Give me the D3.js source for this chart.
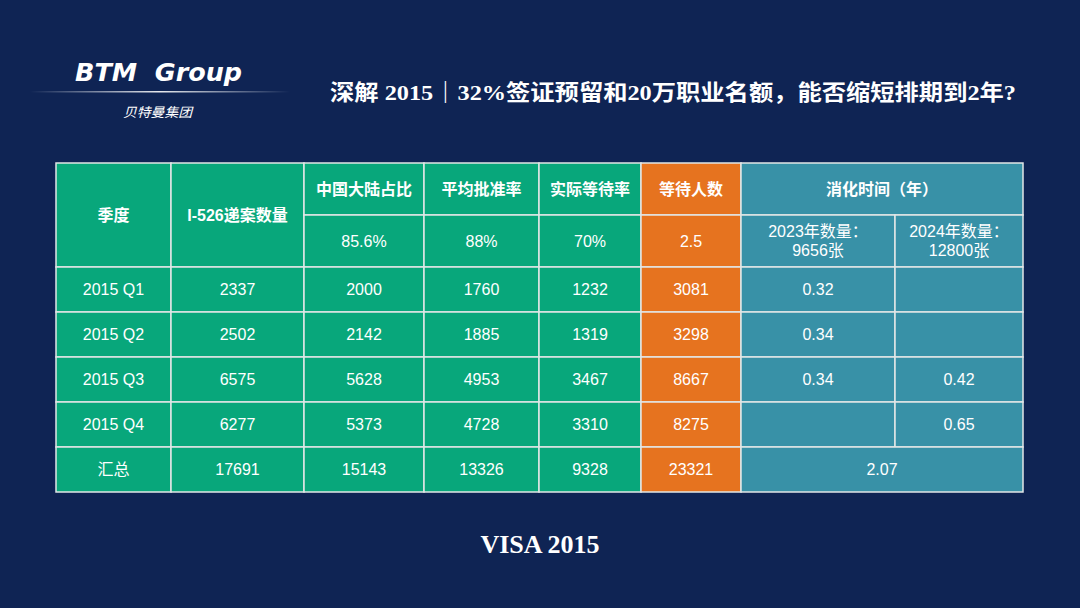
<!DOCTYPE html>
<html>
<head>
<meta charset="utf-8">
<script src="https://cdn.jsdelivr.net/npm/d3@7/dist/d3.min.js"></script>
<style>
  html, body { margin: 0; padding: 0; background: #0f2454; }
  svg { display: block; }
</style>
</head>
<body>
<div id="chart"></div>
<script>
  // data
  var quarters = ['2015 Q1', '2015 Q2', '2015 Q3', '2015 Q4'];
  var totalLabel = '汇总';
  var filings = [2337, 2502, 6575, 6277];
  var mainland = [2000, 2142, 5628, 5373];
  var approved = [1760, 1885, 4953, 4728];
  var actualWait = [1232, 1319, 3467, 3310];
  var waiting = [3081, 3298, 8667, 8275];
  var time2023 = ['0.32', '0.34', '0.34', ''];
  var time2024 = ['', '', '0.42', '0.65'];
  var totals = [17691, 15143, 13326, 9328, 23321];
  var totalTime = '2.07';
  var rateHeaders = ['中国大陆占比', '平均批准率', '实际等待率', '等待人数'];
  var rateValues = ['85.6%', '88%', '70%', '2.5'];
  var yearHeaders = [['2023年数量：', '9656张'], ['2024年数量：', '12800张']];

  var W = 1080, H = 608;
  var colors = { bg: '#0f2454', green: '#08a77b', orange: '#e6731f', teal: '#3891a7', line: '#e2e6e6' };
  var sans = "'Liberation Sans', Arial, 'Noto Sans CJK SC', sans-serif";
  var serif = "'Liberation Serif', 'Times New Roman', 'Noto Sans CJK SC', serif";

  var svg = d3.select('#chart').append('svg')
      .attr('width', W).attr('height', H);

  svg.append('rect').attr('width', W).attr('height', H).attr('fill', colors.bg);

  // logo
  var grad = svg.append('defs').append('linearGradient')
      .attr('id', 'logoLine').attr('x1', '0%').attr('x2', '100%');
  grad.append('stop').attr('offset', '0%').attr('stop-color', '#fff').attr('stop-opacity', 0);
  grad.append('stop').attr('offset', '50%').attr('stop-color', '#fff').attr('stop-opacity', 0.9);
  grad.append('stop').attr('offset', '100%').attr('stop-color', '#fff').attr('stop-opacity', 0);

  svg.append('text')
      .attr('x', 75).attr('y', 81)
      .attr('textLength', 167).attr('lengthAdjust', 'spacingAndGlyphs')
      .style('white-space', 'pre')
      .style('font-family', "'DejaVu Sans', sans-serif")
      .style('font-style', 'italic').style('font-weight', 'bold')
      .style('font-size', '25px').attr('fill', '#fff')
      .text('BTM  Group');

  svg.append('rect')
      .attr('x', 30).attr('y', 91).attr('width', 260).attr('height', 1.5)
      .attr('fill', 'url(#logoLine)');

  svg.append('text')
      .attr('x', 123).attr('y', 117)
      .attr('textLength', 69).attr('lengthAdjust', 'spacingAndGlyphs')
      .style('font-family', "'Noto Sans CJK SC', sans-serif")
      .style('font-style', 'italic').style('font-size', '13px')
      .attr('fill', '#fff')
      .text('贝特曼集团');

  // title
  svg.append('text')
      .attr('x', 330).attr('y', 100)
      .attr('textLength', 686).attr('lengthAdjust', 'spacingAndGlyphs')
      .style('font-family', serif).style('font-weight', 'bold')
      .style('font-size', '22px').attr('fill', '#fff')
      .text('深解 2015｜32%签证预留和20万职业名额，能否缩短排期到2年?');

  svg.append('text')
      .attr('x', 540).attr('y', 553)
      .attr('text-anchor', 'middle')
      .style('font-family', serif).style('font-weight', 'bold')
      .style('font-size', '26px').attr('fill', '#fff')
      .text('VISA 2015');

  // table layout
  var colEdges = [56, 171, 304, 424, 539, 641, 741, 895, 1023];
  var headTop = 163, headMid = 215, headBottom = 267, tableBottom = 492;

  var rowLabels = quarters.concat([totalLabel]);
  var y = d3.scaleBand().domain(rowLabels).range([headBottom, tableBottom]);

  var cells = [];
  function cell(c0, c1, y0, y1, fill, lines, bold) {
    cells.push({ x0: colEdges[c0], x1: colEdges[c1], y0: y0, y1: y1,
                 fill: fill, lines: lines, bold: bold });
  }
  function colFill(c) {
    if (c === 5) { return colors.orange; }
    if (c >= 6) { return colors.teal; }
    return colors.green;
  }

  // header
  cell(0, 1, headTop, headBottom, colors.green, ['季度'], true);
  cell(1, 2, headTop, headBottom, colors.green, ['I-526递案数量'], true);
  rateHeaders.forEach(function(h, i) {
    cell(2 + i, 3 + i, headTop, headMid, colFill(2 + i), [h], true);
    cell(2 + i, 3 + i, headMid, headBottom, colFill(2 + i), [rateValues[i]], false);
  });
  cell(6, 8, headTop, headMid, colors.teal, ['消化时间（年）'], true);
  yearHeaders.forEach(function(h, i) {
    cell(6 + i, 7 + i, headMid, headBottom, colors.teal, h, false);
  });

  // body rows
  quarters.forEach(function(q, i) {
    var y0 = y(q), y1 = y(q) + y.bandwidth();
    var vals = [q, filings[i], mainland[i], approved[i], actualWait[i], waiting[i], time2023[i], time2024[i]];
    vals.forEach(function(v, c) {
      cell(c, c + 1, y0, y1, colFill(c), [String(v)], false);
    });
  });
  var ty0 = y(totalLabel), ty1 = ty0 + y.bandwidth();
  cell(0, 1, ty0, ty1, colors.green, [totalLabel], false);
  totals.forEach(function(v, i) {
    cell(1 + i, 2 + i, ty0, ty1, colFill(1 + i), [String(v)], false);
  });
  cell(6, 8, ty0, ty1, colors.teal, [totalTime], false);

  var table = svg.append('g').attr('class', 'table');

  var g = table.selectAll('g.cell')
    .data(cells)
    .enter().append('g')
      .attr('class', 'cell');

  g.append('rect')
      .attr('x', function(d) { return d.x0; })
      .attr('y', function(d) { return d.y0; })
      .attr('width', function(d) { return d.x1 - d.x0; })
      .attr('height', function(d) { return d.y1 - d.y0; })
      .attr('fill', function(d) { return d.fill; })
      .attr('stroke', colors.line)
      .attr('stroke-width', 1.5);

  g.append('text')
      .attr('text-anchor', 'middle')
      .style('font-family', sans)
      .style('font-size', '16px')
      .style('font-weight', function(d) { return d.bold ? 'bold' : 'normal'; })
      .attr('fill', '#fff')
    .each(function(d) {
        var t = d3.select(this);
        var cx = (d.x0 + d.x1) / 2, cy = (d.y0 + d.y1) / 2;
        var lh = 19;
        var start = cy - (d.lines.length - 1) * lh / 2;
        d.lines.forEach(function(line, k) {
            t.append('tspan')
              .attr('x', cx)
              .attr('y', start + k * lh)
              .attr('dy', '0.35em')
              .text(line);
        });
    });
</script>
</body>
</html>
